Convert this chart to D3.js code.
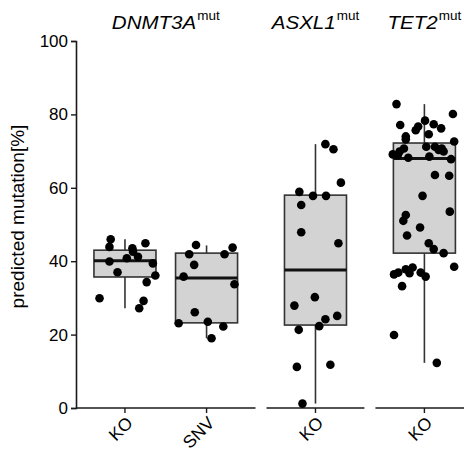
<!DOCTYPE html>
<html>
<head>
<meta charset="utf-8">
<script src="https://cdn.jsdelivr.net/npm/d3@7"></script>
<style>
  html, body { margin: 0; padding: 0; background: #fff; }
  svg { display: block; font-family: "Liberation Sans", Arial, sans-serif; }
</style>
</head>
<body>
<svg id="chart" width="464" height="452"></svg>
<script>
// Panels (gene) and the categories inside each panel
const panels = ["DNMT3A", "ASXL1", "TET2"];
const panelCategories = [["KO", "SNV"], ["KO"], ["KO"]];

// Box statistics per group: [min, Q1, median, Q3, max]
const boxDNMT3A_KO  = [27.2, 35.7, 40.1, 43.0, 46.0];
const boxDNMT3A_SNV = [19.0, 23.2, 35.4, 42.2, 44.3];
const boxASXL1_KO   = [1.2, 22.6, 37.6, 58.0, 71.9];
const boxTET2_KO    = [12.3, 42.2, 68.0, 72.2, 82.8];

// Individual samples: predicted mutation [%]
const valsDNMT3A_KO  = [46.0, 43.9, 44.9, 43.5, 42.6, 41.2, 40.8, 39.9, 39.4, 37.0, 36.1, 34.3, 29.9, 29.2, 27.2];
const valsDNMT3A_SNV = [44.4, 43.7, 41.9, 41.9, 39.0, 35.8, 33.7, 26.1, 23.1, 23.5, 22.2, 19.0];
const valsASXL1_KO   = [71.9, 70.5, 61.4, 58.9, 57.8, 57.8, 55.3, 47.9, 44.9, 30.2, 27.9, 25.1, 24.2, 22.3, 21.3, 11.2, 11.8, 1.2];
const valsTET2_KO    = [82.8, 80.1, 78.3, 75.7, 76.7, 77.3, 76.2, 77.1, 74.6, 74.0, 73.2, 72.6, 71.2, 71.2, 70.3, 69.9,
                        70.7, 69.9, 69.1, 68.9, 68.2, 68.5, 67.8, 63.5, 63.3, 57.8, 52.6, 51.0, 53.5, 49.2, 47.0, 44.9,
                        43.3, 42.2, 38.5, 36.4, 36.9, 37.8, 38.3, 36.7, 36.9, 35.8, 33.2, 19.9, 12.3, 70.7];

// Horizontal jitter of each sample, as a fraction of the box width
const jitDNMT3A_KO  = [-0.23, -0.25, 0.33, 0.12, 0.13, 0.21, 0.03, -0.25, 0.45, -0.12, 0.49, 0.35, -0.41, 0.30, 0.23];
const jitDNMT3A_SNV = [-0.17, 0.42, -0.28, 0.29, -0.20, -0.37, 0.45, -0.19, -0.45, 0.02, 0.27, 0.08];
const jitASXL1_KO   = [0.16, 0.29, 0.41, -0.26, -0.04, 0.17, -0.23, -0.23, 0.37, -0.01, -0.34, 0.35, 0.16, 0.06, -0.27, -0.30, 0.24, -0.21];
const jitTET2_KO    = [-0.45, 0.46, 0.01, -0.14, -0.10, 0.15, 0.27, -0.39, 0.07, -0.30, -0.30, 0.48, 0.03, 0.17, 0.23, 0.31,
                       -0.33, -0.40, -0.51, -0.43, -0.26, 0.08, 0.43, 0.17, 0.40, -0.03, -0.30, -0.34, 0.41, -0.07, -0.28, 0.07,
                       0.15, 0.31, 0.48, -0.49, -0.42, -0.30, -0.19, -0.24, -0.06, 0.02, -0.36, -0.49, 0.20, 0.28];

const yTicks = [0, 20, 40, 60, 80, 100];

const groups = [
  { panel: 0, cat: "KO",  box: boxDNMT3A_KO,  vals: valsDNMT3A_KO,  jit: jitDNMT3A_KO },
  { panel: 0, cat: "SNV", box: boxDNMT3A_SNV, vals: valsDNMT3A_SNV, jit: jitDNMT3A_SNV },
  { panel: 1, cat: "KO",  box: boxASXL1_KO,   vals: valsASXL1_KO,   jit: jitASXL1_KO },
  { panel: 2, cat: "KO",  box: boxTET2_KO,    vals: valsTET2_KO,    jit: jitTET2_KO }
];

const svg = d3.select("#chart");
const plotLeft = 76, plotTop = 41, plotBottom = 408;
const panelGap = 11, unitPx = 81.6;
const boxWidth = 0.76;           // in category units
const axisColor = "#1a1a1a";

const y = d3.scaleLinear().domain([0, 100]).range([plotBottom, plotTop]);

// Each panel spans its categories plus 0.6 units of padding on each side
const panelScales = [];
let cursor = plotLeft;
panelCategories.forEach((cats) => {
  const n = cats.length;
  const w = (n + 0.2) * unitPx;
  const sc = d3.scaleLinear().domain([0.4, n + 0.6]).range([cursor, cursor + w]);
  panelScales.push(sc);
  cursor += w + panelGap;
});
const xPos = (g) => panelScales[g.panel](panelCategories[g.panel].indexOf(g.cat) + 1);
const unitW = (g) => panelScales[g.panel](1) - panelScales[g.panel](0);

// Y axis
const yAxis = svg.append("g")
  .attr("transform", `translate(${plotLeft},0)`)
  .call(d3.axisLeft(y).tickValues(yTicks).tickSize(5).tickPadding(3));
yAxis.select(".domain").attr("stroke", axisColor).attr("stroke-width", 1.6);
yAxis.selectAll(".tick line").attr("stroke", axisColor).attr("stroke-width", 1.4);
yAxis.selectAll(".tick text").attr("font-size", 17).attr("fill", "#000")
  .attr("font-family", "Liberation Sans, Arial, sans-serif");

svg.append("text")
  .attr("transform", `translate(24,${(plotTop + plotBottom) / 2 - 8}) rotate(-90)`)
  .attr("text-anchor", "middle")
  .attr("font-size", 19)
  .attr("fill", "#000")
  .text("predicted mutation[%]");

// X axes, one per panel
panelScales.forEach((sc, i) => {
  const cats = panelCategories[i];
  const g = svg.append("g").attr("transform", `translate(0,${plotBottom})`);
  const [r0, r1] = sc.range();
  g.append("line").attr("x1", r0).attr("x2", r1).attr("y1", 0).attr("y2", 0)
    .attr("stroke", axisColor).attr("stroke-width", 1.6);
  cats.forEach((c, j) => {
    const x = sc(j + 1);
    g.append("line").attr("x1", x).attr("x2", x).attr("y1", 0).attr("y2", 5)
      .attr("stroke", axisColor).attr("stroke-width", 1.4);
    g.append("text")
      .attr("transform", `translate(${x + 9},${16}) rotate(-45)`)
      .attr("text-anchor", "end")
      .attr("font-size", 17.5)
      .attr("fill", "#000")
      .text(c);
  });
  // Panel title with superscript
  const t = svg.append("text")
    .attr("transform", `translate(${(r0 + r1) / 2},29) scale(1.08,1)`)
    .attr("text-anchor", "middle")
    .attr("font-size", 19)
    .attr("fill", "#000");
  t.append("tspan").attr("font-style", "italic").text(panels[i]);
  t.append("tspan").attr("font-size", 12.5).attr("dy", -9).attr("dx", 1).text("mut");
});

// Boxplots
groups.forEach((g) => {
  const cx = xPos(g), bw = boxWidth * unitW(g);
  const [mn, q1, md, q3, mx] = g.box;
  const layer = svg.append("g");
  layer.append("line").attr("x1", cx).attr("x2", cx).attr("y1", y(mx)).attr("y2", y(q3))
    .attr("stroke", "#333").attr("stroke-width", 1.6);
  layer.append("line").attr("x1", cx).attr("x2", cx).attr("y1", y(q1)).attr("y2", y(mn))
    .attr("stroke", "#333").attr("stroke-width", 1.6);
  layer.append("rect")
    .attr("x", cx - bw / 2).attr("width", bw)
    .attr("y", y(q3)).attr("height", y(q1) - y(q3))
    .attr("fill", "#d3d3d3").attr("stroke", "#333").attr("stroke-width", 1.6);
  layer.append("line").attr("x1", cx - bw / 2).attr("x2", cx + bw / 2)
    .attr("y1", y(md)).attr("y2", y(md))
    .attr("stroke", "#111").attr("stroke-width", 3);
});

// Jittered samples
groups.forEach((g) => {
  const cx = xPos(g), bw = boxWidth * unitW(g);
  svg.append("g").selectAll("circle")
    .data(g.vals.map((v, i) => ({ v, j: g.jit[i] })))
    .join("circle")
    .attr("cx", (d) => cx + d.j * bw)
    .attr("cy", (d) => y(d.v))
    .attr("r", 4.3)
    .attr("fill", "#000");
});
</script>
</body>
</html>
